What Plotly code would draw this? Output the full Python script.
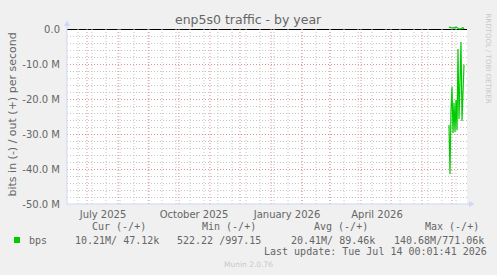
import plotly.graph_objects as go
import pandas as pd

# ---------------- data ----------------
dates = ["2026-06-28", "2026-06-29", "2026-06-30", "2026-07-01", "2026-07-02",
         "2026-07-03", "2026-07-04", "2026-07-05", "2026-07-06", "2026-07-07",
         "2026-07-08", "2026-07-09", "2026-07-10", "2026-07-11", "2026-07-12",
         "2026-07-13"]
in_mbps = [27.4, 41.4, 23.1, 16.6, 29.7, 21.1, 29.4, 20.3, 28.9, 5.7,
           25.7, 10.3, 3.7, 26.3, 17.0, 10.21]
out_mbps = [0.35, 0.50, 0.40, 0.30, 0.25, 0.45, 0.30, 0.55, 0.35, 0.05,
            0.02, 0.03, 0.02, 0.30, 0.40, 0.05]

y_tickvals = [0, -10, -20, -30, -40, -50]
y_ticktext = ["0.0", "-10.0 M", "-20.0 M", "-30.0 M", "-40.0 M", "-50.0 M"]
x_tickvals = ["2025-07-17", "2025-10-16", "2026-01-17", "2026-04-17"]
x_ticktext = ["July 2025", "October 2025", "January 2026", "April 2026"]

legend_headers = ["Cur (-/+)", "Min (-/+)", "Avg (-/+)", "Max (-/+)"]
legend_values = ["10.21M/ 47.12k", "522.22 /997.15", "20.41M/ 89.46k", "140.68M/771.06k"]
last_update = "Last update: Tue Jul 14 00:01:41 2026"

title = "enp5s0 traffic - by year"
y_title = "bits in (-) / out (+) per second"

x_start, x_end = "2025-06-11", "2026-07-16"
month_lines = pd.date_range("2025-07-01", "2026-07-01", freq="MS")
minor_x = pd.date_range("2025-06-22", "2026-07-14", freq="14D")

# ---------------- layout helpers ----------------
L, R, T, B = 67, 467, 26, 204
W, H = 497, 275
def px(x):
    return (x - L) / (R - L)
def py(y):
    return (B - y) / (B - T)

HALF = 0.5 / 3.5  # half a pixel in data units (M)

FONT = "DejaVu Sans"
MONO = "DejaVu Sans Mono"
FC = "#666666"
AXIS = "#CFD6F8"
GREEN = "#00CC00"
RED = "#E39090"
GRAY = "#C6C6C6"
DASH = "1px,2px"

fig = go.Figure()
fig.add_trace(go.Scatter(x=dates, y=[-v for v in in_mbps], mode="lines",
                         line=dict(color=GREEN, width=1.2), showlegend=False,
                         hoverinfo="skip"))
fig.add_trace(go.Scatter(x=dates, y=out_mbps, mode="lines",
                         line=dict(color=GREEN, width=1.2), showlegend=False,
                         hoverinfo="skip"))

shapes = []
# white canvas
shapes.append(dict(type="rect", xref="paper", yref="y", x0=0, x1=1, y0=-50, y1=0,
                   fillcolor="white", line=dict(width=0), layer="below"))
# minor grid
for d in minor_x:
    shapes.append(dict(type="line", xref="x", yref="y", x0=d, x1=d, y0=-50, y1=0.5,
                       line=dict(color=GRAY, width=1, dash=DASH), layer="below"))
for v in range(-48, 0, 2):
    if v % 10 != 0:
        shapes.append(dict(type="line", xref="paper", yref="y", x0=0, x1=1.005,
                           y0=v - HALF, y1=v - HALF,
                           line=dict(color=GRAY, width=1, dash=DASH), layer="below"))
# major grid
for d in month_lines:
    shapes.append(dict(type="line", xref="x", yref="y", x0=d, x1=d, y0=-50, y1=0.5,
                       line=dict(color=RED, width=1, dash=DASH), layer="below"))
for v in y_tickvals[1:-1]:
    shapes.append(dict(type="line", xref="paper", yref="y", x0=0, x1=1.005,
                       y0=v - HALF, y1=v - HALF,
                       line=dict(color=RED, width=1, dash=DASH), layer="below"))
# zero line
shapes.append(dict(type="line", xref="paper", yref="y", x0=0, x1=1, y0=-HALF, y1=-HALF,
                   line=dict(color="black", width=1), layer="below"))
# axes
shapes.append(dict(type="line", xref="paper", yref="paper", x0=px(67), x1=px(67),
                   y0=py(204), y1=py(25), line=dict(color=AXIS, width=1)))
shapes.append(dict(type="path", xref="paper", yref="paper",
                   path=f"M {px(64)} {py(26)} L {px(70)} {py(26)} L {px(67)} {py(20.5)} Z",
                   fillcolor=AXIS, line=dict(width=0)))
shapes.append(dict(type="line", xref="paper", yref="paper", x0=px(67), x1=px(470),
                   y0=py(204), y1=py(204), line=dict(color=AXIS, width=1)))
shapes.append(dict(type="path", xref="paper", yref="paper",
                   path=f"M {px(469)} {py(201)} L {px(469)} {py(207)} L {px(474.5)} {py(204)} Z",
                   fillcolor=AXIS, line=dict(width=0)))

ann = []
ann.append(dict(text=title, x=px(248.5), y=py(19), xref="paper", yref="paper",
                showarrow=False, xanchor="center", yanchor="middle",
                font=dict(family=FONT, size=12.5, color=FC)))
ann.append(dict(text=y_title, x=px(12), y=py(114.5), xref="paper", yref="paper",
                showarrow=False, textangle=-90, xanchor="center", yanchor="middle",
                font=dict(family=FONT, size=11, color=FC)))
ann.append(dict(text="RRDTOOL / TOBI OETIKER", x=px(487.5), y=py(58), xref="paper", yref="paper",
                showarrow=False, textangle=90, xanchor="center", yanchor="middle",
                font=dict(family=FONT, size=7, color="#C8C8C8")))
for hx, h in zip([90, 200, 312, 423], legend_headers):
    ann.append(dict(text=h, x=px(hx), y=py(226), xref="paper", yref="paper",
                    showarrow=False, xanchor="left", yanchor="middle",
                    font=dict(family=MONO, size=10, color=FC)))
ann.append(dict(text="bps", x=px(27), y=py(240), xref="paper", yref="paper",
                showarrow=False, xanchor="left", yanchor="middle",
                font=dict(family=MONO, size=10, color=FC)))
for vx, v in zip([73, 175, 289, 392], legend_values):
    ann.append(dict(text=v, x=px(vx), y=py(240), xref="paper", yref="paper",
                    showarrow=False, xanchor="left", yanchor="middle",
                    font=dict(family=MONO, size=10, color=FC)))
ann.append(dict(text=last_update, x=px(262), y=py(251), xref="paper", yref="paper",
                showarrow=False, xanchor="left", yanchor="middle",
                font=dict(family=MONO, size=10, color=FC)))
ann.append(dict(text="Munin 2.0.76", x=px(248), y=py(264), xref="paper", yref="paper",
                showarrow=False, xanchor="center", yanchor="middle",
                font=dict(family=FONT, size=7.5, color="#C8C8C8")))
# legend colour box
shapes.append(dict(type="rect", xref="paper", yref="paper", x0=px(14), x1=px(20),
                   y0=py(243), y1=py(237), fillcolor=GREEN, line=dict(width=0)))

fig.update_layout(
    width=W, height=H,
    margin=dict(l=L, r=W - R, t=T, b=H - B, pad=0),
    paper_bgcolor="#F0F0F0", plot_bgcolor="#F0F0F0",
    shapes=shapes, annotations=ann, showlegend=False,
    xaxis=dict(type="date", range=[x_start, x_end], tickvals=x_tickvals, ticktext=x_ticktext,
               showgrid=False, zeroline=False, showline=False, ticks="",
               ticklabelstandoff=3,
               tickfont=dict(family=FONT, size=10, color=FC), fixedrange=True),
    yaxis=dict(range=[-50, 50 * (B - T) / 175 - 50], tickvals=y_tickvals, ticktext=y_ticktext,
               showgrid=False, zeroline=False, showline=False, ticks="",
               ticklabelstandoff=6,
               tickfont=dict(family=FONT, size=10, color=FC), fixedrange=True),
)

fig.write_html("out.html")
